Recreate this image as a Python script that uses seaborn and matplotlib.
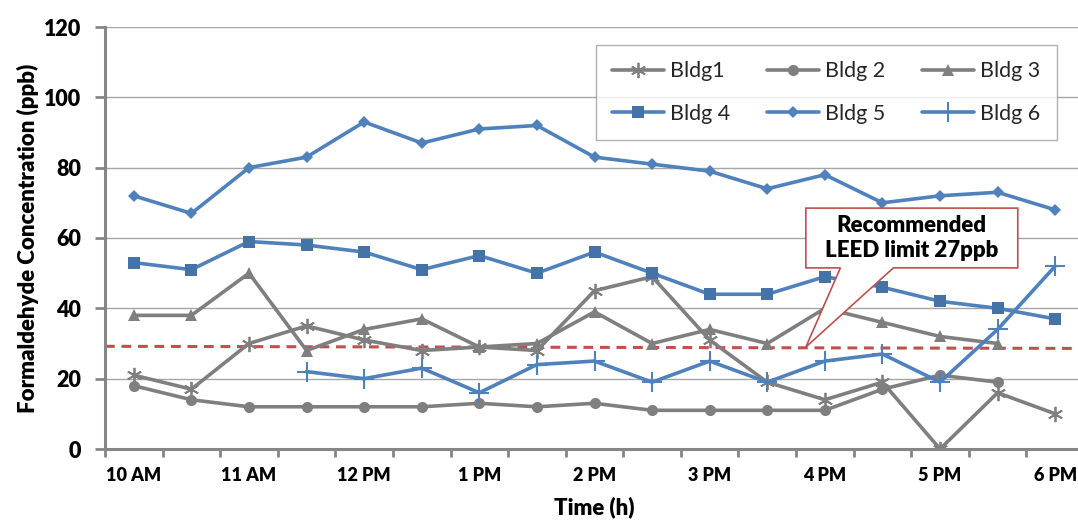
import numpy as np
import pandas as pd
import matplotlib
matplotlib.use("Agg")
import matplotlib.pyplot as plt
from matplotlib.patches import Polygon
import seaborn as sns

# ---------------- data ----------------
time_labels = ["10 AM", "11 AM", "12 PM", "1 PM", "2 PM", "3 PM", "4 PM", "5 PM", "6 PM"]
slots = list(range(17))  # half-hour slots from 10 AM to 6 PM

bldg1 = [21, 17, 30, 35, 31, 28, 29, 28, 45, 49, 31, 19, 14, 19, 0, 16, 10]
bldg2 = [18, 14, 12, 12, 12, 12, 13, 12, 13, 11, 11, 11, 11, 17, 21, 19, np.nan]
bldg3 = [38, 38, 50, 28, 34, 37, 29, 30, 39, 30, 34, 30, 40, 36, 32, 30, np.nan]
bldg4 = [53, 51, 59, 58, 56, 51, 55, 50, 56, 50, 44, 44, 49, 46, 42, 40, 37]
bldg5 = [72, 67, 80, 83, 93, 87, 91, 92, 83, 81, 79, 74, 78, 70, 72, 73, 68]
bldg6 = [np.nan, np.nan, np.nan, 22, 20, 23, 16, 24, 25, 19, 25, 19, 25, 27, 19, 34, 52]

series_names = ["Bldg1", "Bldg 2", "Bldg 3", "Bldg 4", "Bldg 5", "Bldg 6"]
series_values = [bldg1, bldg2, bldg3, bldg4, bldg5, bldg6]

limit_line = [29.2, 28.6]  # dashed reference line (left, right)
callout_text = "Recommended\nLEED limit 27ppb"

# ---------------- style ----------------
GRAY = "#7f7f7f"
BLUE = "#4f81bd"
RED = "#c0504d"
HEAVY = "heavy"

sns.set_theme(style="white")
plt.rcParams["font.family"] = ["Lato", "DejaVu Sans"]

styles = {
    "Bldg1": dict(color=GRAY, marker=(6, 2, 0), markersize=11, markeredgewidth=1.3,
                  markeredgecolor=GRAY),
    "Bldg 2": dict(color=GRAY, marker="o", markersize=8, markeredgewidth=0),
    "Bldg 3": dict(color=GRAY, marker="^", markersize=8.5, markeredgewidth=0),
    "Bldg 4": dict(color=BLUE, marker="s", markersize=9, markeredgewidth=0,
                   markerfacecolor="#4572a7"),
    "Bldg 5": dict(color=BLUE, marker="D", markersize=6, markeredgewidth=0),
    "Bldg 6": dict(color=BLUE, marker="+", markersize=14, markeredgewidth=1.5,
                   markeredgecolor=BLUE),
}

fig = plt.figure(figsize=(10.78, 5.24), dpi=100)
ax = fig.add_axes([105 / 1078, 75 / 524, 979 / 1078, 422 / 524])

for name, vals in zip(series_names, series_values):
    df = pd.DataFrame({"slot": slots, "value": vals}).dropna()
    sns.lineplot(data=df, x="slot", y="value", ax=ax, label=name, linewidth=2.6,
                 **styles[name])

# dashed limit line
ax.plot([-0.5, 16.5], limit_line, color=RED, linestyle=(0, (3.2, 2.2)), linewidth=2.2,
        zorder=1.5)

# axes limits / ticks
ax.set_xlim(-0.5, 16.5)
ax.set_ylim(0, 120)
ax.set_yticks(range(0, 121, 20))
ax.set_xticks(range(0, 17, 2))
ax.set_xticklabels(time_labels)
ax.set_xticks(np.arange(-0.5, 17, 1), minor=True)

ax.tick_params(axis="x", which="major", length=0, pad=13, labelsize=13)
ax.tick_params(axis="x", which="minor", length=6, width=2, color="#868686", direction="out",
               bottom=True)
ax.tick_params(axis="y", which="major", length=7, width=2, color="#868686", direction="out",
               left=True, pad=10, labelsize=15.5)
for lab in ax.get_xticklabels() + ax.get_yticklabels():
    lab.set_fontweight(HEAVY)
    lab.set_color("black")

ax.grid(axis="y", color="#a6a6a6", linewidth=1)
ax.grid(axis="x", visible=False)
ax.set_axisbelow(True)

for s in ["top", "right"]:
    ax.spines[s].set_visible(False)
for s in ["left", "bottom"]:
    ax.spines[s].set_color("#868686")
    ax.spines[s].set_linewidth(2.2)

ax.set_xlabel("Time (h)", fontsize=16, fontweight=HEAVY, labelpad=9, color="black")
ax.set_ylabel("Formaldehyde Concentration (ppb)", fontsize=16, fontweight=HEAVY,
              labelpad=4, color="black")

# callout
bx0, bx1, by0, by1 = 11.67, 15.35, 51.5, 68.5
poly = Polygon([(bx0, by1), (bx1, by1), (bx1, by0), (13.19, by0), (11.67, 29.0),
                (12.27, by0), (bx0, by0)], closed=True, facecolor="white",
               edgecolor=RED, linewidth=1.2, zorder=5)
ax.add_patch(poly)
ax.text((bx0 + bx1) / 2, (by0 + by1) / 2, callout_text, ha="center", va="center",
        fontsize=16, fontweight=HEAVY, color="black", linespacing=1.25, zorder=6)

# legend (row-major order like the reference)
handles, labels = ax.get_legend_handles_labels()
order = [0, 3, 1, 4, 2, 5]
leg = ax.legend([handles[i] for i in order], [labels[i] for i in order],
                loc="upper left", bbox_to_anchor=(0.5015, 0.957), ncol=3, fontsize=15.5,
                frameon=True, fancybox=False, handlelength=2.4, handletextpad=0.3,
                columnspacing=1.7, borderpad=0.75, labelspacing=1.05, borderaxespad=0)
leg.get_frame().set_edgecolor("#9c9c9c")
leg.get_frame().set_linewidth(1.0)

fig.savefig("out.png", dpi=100)
